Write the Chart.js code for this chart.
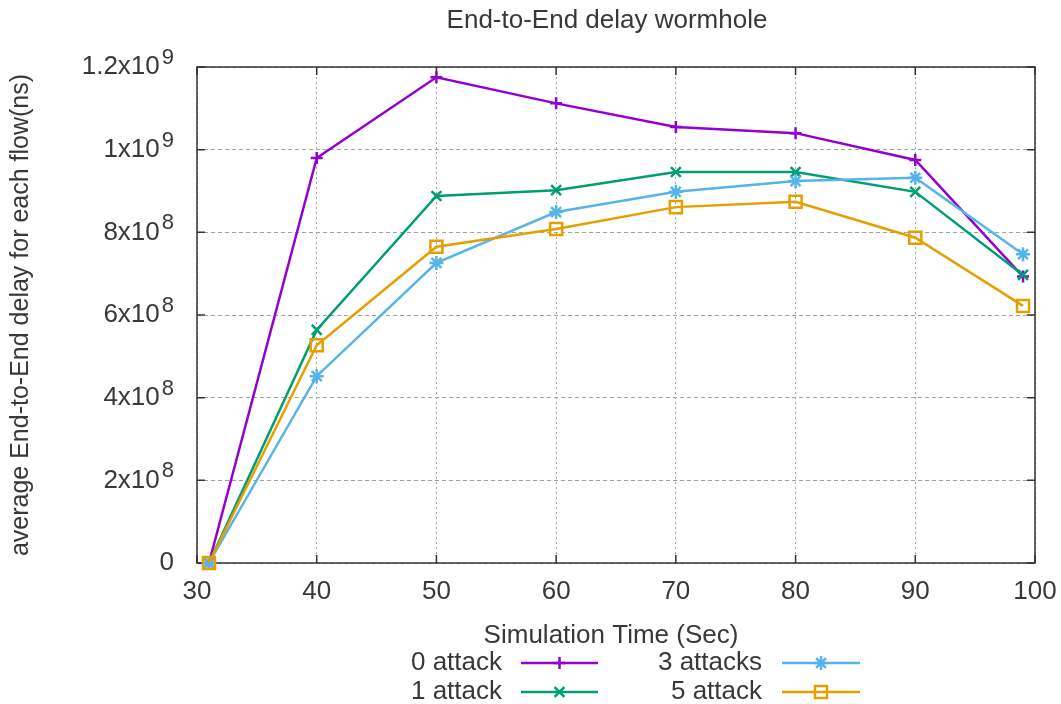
<!DOCTYPE html>
<html><head><meta charset="utf-8">
<script src="https://cdn.jsdelivr.net/npm/chart.js@4.4.0/dist/chart.umd.min.js"></script>
<style>html,body{margin:0;padding:0;background:#fff;}#wrap{width:1061px;height:704px;}</style>
</head><body><div id="wrap"><canvas id="c" width="1061" height="704"></canvas></div>
<script>
const xValues = [31, 40, 50, 60, 70, 80, 90, 99];
const attack0 = [0, 0.980e9, 1.175e9, 1.112e9, 1.055e9, 1.040e9, 0.975e9, 0.693e9];
const attack1 = [0, 0.564e9, 0.888e9, 0.902e9, 0.946e9, 0.946e9, 0.898e9, 0.697e9];
const attack3 = [0, 0.452e9, 0.726e9, 0.849e9, 0.898e9, 0.924e9, 0.932e9, 0.747e9];
const attack5 = [0, 0.527e9, 0.765e9, 0.808e9, 0.861e9, 0.874e9, 0.787e9, 0.622e9];
const seriesNames = ['0 attack', '1 attack', '3 attacks', '5 attack'];
const xTicks = [30, 40, 50, 60, 70, 80, 90, 100];
const yTicks = [0, 2e8, 4e8, 6e8, 8e8, 1e9, 1.2e9];
const yTickMantissa = ['0', '2x10', '4x10', '6x10', '8x10', '1x10', '1.2x10'];
const yTickExponent = ['', '8', '8', '8', '8', '9', '9'];
const titleText = 'End-to-End delay wormhole';
const xTitle = 'Simulation Time (Sec)';
const yTitle = 'average End-to-End delay for each flow(ns)';

const colors = ['#9400d3', '#009e73', '#56b4e9', '#e69f00'];
const styles = ['cross', 'crossRot', 'star', 'rect'];
const radii = [6, 7, 7, 8.5];
const allSeries = [attack0, attack1, attack3, attack5];

const FONT = '"Liberation Sans", Arial, sans-serif';
const TXT = '#383838';

function drawMarker(ctx, style, x, y, r, color) {
  ctx.save();
  ctx.strokeStyle = color; ctx.lineWidth = 2.5; ctx.setLineDash([]);
  ctx.beginPath();
  if (style === 'cross' || style === 'star') {
    ctx.moveTo(x - r, y); ctx.lineTo(x + r, y);
    ctx.moveTo(x, y - r); ctx.lineTo(x, y + r);
  }
  if (style === 'crossRot' || style === 'star') {
    const d = r * Math.SQRT1_2;
    ctx.moveTo(x - d, y - d); ctx.lineTo(x + d, y + d);
    ctx.moveTo(x - d, y + d); ctx.lineTo(x + d, y - d);
  }
  if (style === 'rect') {
    const s = r * Math.SQRT1_2;
    ctx.rect(x - s, y - s, 2 * s, 2 * s);
  }
  ctx.stroke();
  ctx.restore();
}

const framePlugin = {
  id: 'frame',
  beforeDatasetsDraw(chart) {
    const {ctx, chartArea: a, scales} = chart;
    ctx.save();
    ctx.strokeStyle = '#333'; ctx.lineWidth = 1.5; ctx.setLineDash([]);
    ctx.strokeRect(a.left, a.top, a.right - a.left, a.bottom - a.top);
    ctx.beginPath();
    const L = 8;
    xTicks.forEach(v => {
      const px = scales.x.getPixelForValue(v);
      ctx.moveTo(px, a.bottom); ctx.lineTo(px, a.bottom - L);
      ctx.moveTo(px, a.top); ctx.lineTo(px, a.top + L);
    });
    yTicks.forEach(v => {
      const py = scales.y.getPixelForValue(v);
      ctx.moveTo(a.left, py); ctx.lineTo(a.left + L, py);
      ctx.moveTo(a.right, py); ctx.lineTo(a.right - L, py);
    });
    ctx.stroke();
    ctx.restore();
  },
  afterDraw(chart) {
    const {ctx, chartArea: a, scales} = chart;
    ctx.save();
    ctx.fillStyle = TXT;
    ctx.font = '26px ' + FONT;
    ctx.textAlign = 'center'; ctx.textBaseline = 'middle';
    ctx.fillText(titleText, 607, 21);
    xTicks.forEach(v => {
      ctx.fillText(String(v), scales.x.getPixelForValue(v), 592);
    });
    ctx.fillText(xTitle, 611, 636);
    yTicks.forEach((v, i) => {
      const py = scales.y.getPixelForValue(v);
      const right = 174;
      ctx.textAlign = 'right';
      let mantRight = right;
      if (yTickExponent[i]) {
        ctx.font = '22px ' + FONT;
        ctx.fillText(yTickExponent[i], right, py - 9);
        mantRight = right - ctx.measureText(yTickExponent[i]).width - 2;
      }
      ctx.font = '26px ' + FONT;
      ctx.fillText(yTickMantissa[i], mantRight, py);
    });
    ctx.save();
    ctx.translate(21, (a.top + a.bottom) / 2);
    ctx.rotate(-Math.PI / 2);
    ctx.textAlign = 'center';
    ctx.font = '25px ' + FONT;
    ctx.fillText(yTitle, 0, 0);
    ctx.restore();
    const cols = [{tx: 502, l1: 521, l2: 598}, {tx: 762, l1: 782, l2: 860}];
    const rows = [663, 692];
    const place = [[0, 0], [0, 1], [1, 0], [1, 1]];
    ctx.font = '26px ' + FONT;
    seriesNames.forEach((n, i) => {
      const c = cols[place[i][0]], y = rows[place[i][1]];
      ctx.fillStyle = TXT; ctx.textAlign = 'right'; ctx.textBaseline = 'middle';
      ctx.fillText(n, c.tx, y);
      ctx.strokeStyle = colors[i]; ctx.lineWidth = 2.5;
      ctx.beginPath(); ctx.moveTo(c.l1, y); ctx.lineTo(c.l2, y); ctx.stroke();
      drawMarker(ctx, styles[i], (c.l1 + c.l2) / 2, y, radii[i], colors[i]);
    });
    ctx.restore();
  }
};

const datasets = allSeries.map((s, i) => ({
  label: seriesNames[i],
  data: xValues.map((x, j) => ({x: x, y: s[j]})),
  borderColor: colors[i],
  backgroundColor: 'rgba(0,0,0,0)',
  borderWidth: 2.5,
  pointStyle: styles[i],
  pointRadius: radii[i],
  pointBorderWidth: 2.5,
  pointBorderColor: colors[i],
  pointBackgroundColor: 'rgba(0,0,0,0)',
  tension: 0,
  clip: false,
  order: 4 - i
}));

new Chart(document.getElementById('c'), {
  type: 'line',
  data: {datasets},
  options: {
    responsive: false,
    animation: false,
    events: [],
    layout: {padding: {left: 197, right: 26, top: 67, bottom: 141}},
    plugins: {legend: {display: false}, title: {display: false}, tooltip: {enabled: false}},
    scales: {
      x: {
        type: 'linear', min: 30, max: 100,
        ticks: {display: false, stepSize: 10},
        grid: {color: '#a0a0a0', lineWidth: 1, drawTicks: false},
        border: {display: false, dash: [2, 3]}
      },
      y: {
        type: 'linear', min: 0, max: 1.2e9,
        ticks: {display: false, stepSize: 2e8},
        grid: {color: '#a0a0a0', lineWidth: 1, drawTicks: false},
        border: {display: false, dash: [4, 3]}
      }
    }
  },
  plugins: [framePlugin]
});
</script></body></html>
